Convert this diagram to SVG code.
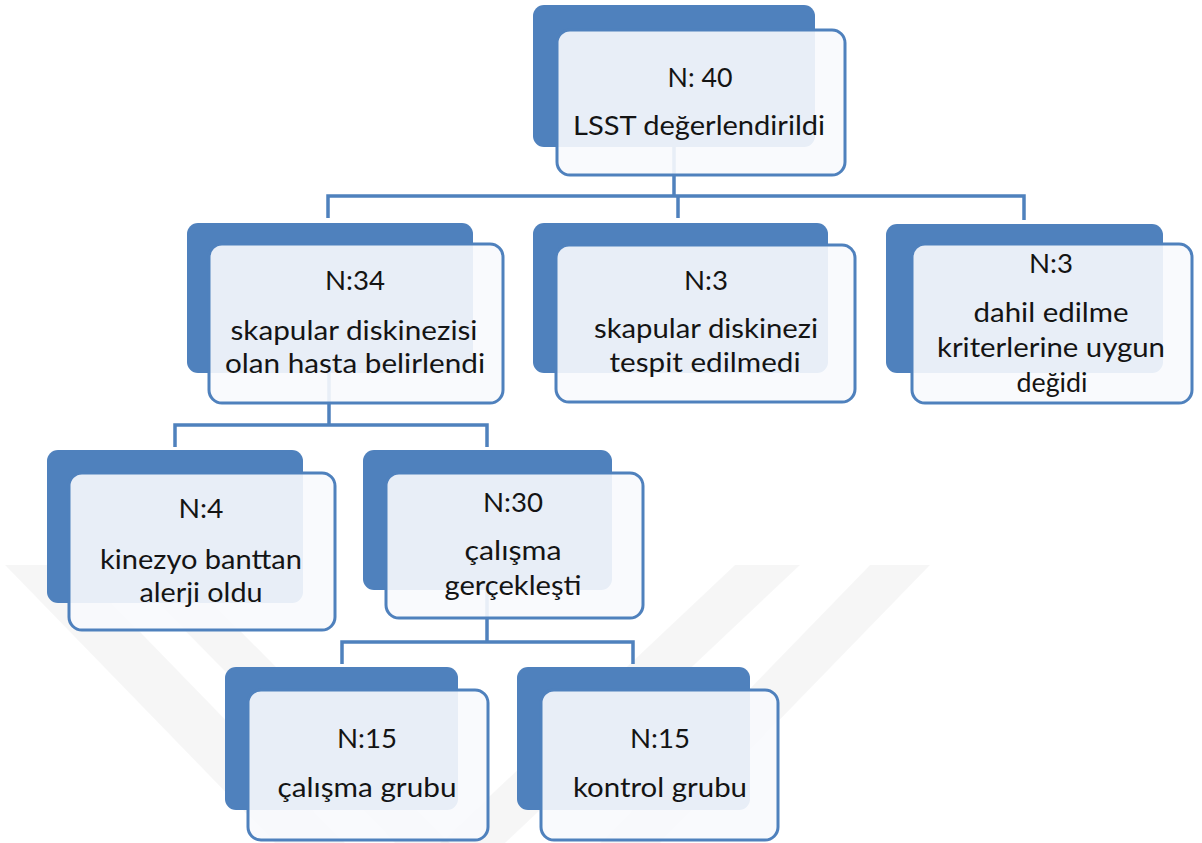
<svg xmlns="http://www.w3.org/2000/svg" width="1202" height="843" viewBox="0 0 1202 843">
<style>
.back{fill:#4f81bd}
.front{fill:#f8fafd;fill-opacity:0.9;stroke:#4f81bd;stroke-width:3}
.con{fill:none;stroke:#4f81bd;stroke-width:3.5}
.t{font-family:Lato,"Open Sans","Liberation Sans",sans-serif;font-size:27.5px;fill:#141414;text-anchor:middle}
.wm{fill:#000000;fill-opacity:0.035}
</style>
<rect width="1202" height="843" fill="#ffffff"/>
<g id="watermark">
<polygon class="wm" points="5,565 75,565 345,843 275,843"/>
<polygon class="wm" points="120,565 175,565 450,843 395,843"/>
<polygon class="wm" points="440,843 505,843 800,565 735,565"/>
<polygon class="wm" points="600,843 660,843 930,565 870,565"/>
</g>
<g id="connectors">
<path class="con" d="M674,147 V196"/>
<path class="con" d="M328,218 V196 H1024 V220"/>
<path class="con" d="M678,196 V218"/>
<path class="con" d="M329,373 V425"/>
<path class="con" d="M175,447 V425 H487 V447"/>
<path class="con" d="M487,590 V642"/>
<path class="con" d="M342,664 V642 H633 V664"/>
</g>
<g id="n40">
<rect class="back" x="533" y="5" width="282" height="142" rx="11"/>
<rect class="front" x="557" y="30" width="288" height="145" rx="13"/>
<text class="t" x="700" y="87" textLength="65" lengthAdjust="spacingAndGlyphs">N: 40</text>
<text class="t" x="699" y="135" textLength="252" lengthAdjust="spacingAndGlyphs">LSST değerlendirildi</text>
</g>
<g id="n34">
<rect class="back" x="187" y="223" width="286" height="150" rx="11"/>
<rect class="front" x="209" y="244" width="294" height="159" rx="13"/>
<text class="t" x="355" y="290" textLength="60" lengthAdjust="spacingAndGlyphs">N:34</text>
<text class="t" x="354" y="340" textLength="247" lengthAdjust="spacingAndGlyphs">skapular diskinezisi</text>
<text class="t" x="355" y="373" textLength="260" lengthAdjust="spacingAndGlyphs">olan hasta belirlendi</text>
</g>
<g id="n3a">
<rect class="back" x="533" y="223" width="295" height="150" rx="11"/>
<rect class="front" x="556" y="245" width="299" height="157" rx="13"/>
<text class="t" x="706" y="290" textLength="44" lengthAdjust="spacingAndGlyphs">N:3</text>
<text class="t" x="706" y="338" textLength="224" lengthAdjust="spacingAndGlyphs">skapular diskinezi</text>
<text class="t" x="705" y="372" textLength="191" lengthAdjust="spacingAndGlyphs">tespit edilmedi</text>
</g>
<g id="n3b">
<rect class="back" x="886" y="224" width="277" height="149" rx="11"/>
<rect class="front" x="912" y="244" width="280" height="159" rx="13"/>
<text class="t" x="1051" y="273" textLength="44" lengthAdjust="spacingAndGlyphs">N:3</text>
<text class="t" x="1051" y="322" textLength="155" lengthAdjust="spacingAndGlyphs">dahil edilme</text>
<text class="t" x="1051" y="357" textLength="228" lengthAdjust="spacingAndGlyphs">kriterlerine uygun</text>
<text class="t" x="1052" y="392" textLength="71" lengthAdjust="spacingAndGlyphs">değidi</text>
</g>
<g id="n4">
<rect class="back" x="47" y="450" width="256" height="153" rx="11"/>
<rect class="front" x="69" y="473" width="266" height="157" rx="13"/>
<text class="t" x="201" y="518" textLength="45" lengthAdjust="spacingAndGlyphs">N:4</text>
<text class="t" x="201" y="569" textLength="202" lengthAdjust="spacingAndGlyphs">kinezyo banttan</text>
<text class="t" x="201" y="602" textLength="123" lengthAdjust="spacingAndGlyphs">alerji oldu</text>
</g>
<g id="n30">
<rect class="back" x="363" y="450" width="249" height="140" rx="11"/>
<rect class="front" x="386" y="473" width="257" height="145" rx="13"/>
<text class="t" x="513" y="512" textLength="60" lengthAdjust="spacingAndGlyphs">N:30</text>
<text class="t" x="513" y="560" textLength="97" lengthAdjust="spacingAndGlyphs">çalışma</text>
<text class="t" x="513" y="595" textLength="137" lengthAdjust="spacingAndGlyphs">gerçekleşti</text>
</g>
<g id="n15a">
<rect class="back" x="225" y="667" width="233" height="143" rx="11"/>
<rect class="front" x="248" y="690" width="240" height="150" rx="13"/>
<text class="t" x="367" y="748" textLength="60" lengthAdjust="spacingAndGlyphs">N:15</text>
<text class="t" x="367" y="797" textLength="179" lengthAdjust="spacingAndGlyphs">çalışma grubu</text>
</g>
<g id="n15b">
<rect class="back" x="517" y="667" width="233" height="143" rx="11"/>
<rect class="front" x="541" y="690" width="237" height="150" rx="13"/>
<text class="t" x="660" y="748" textLength="60" lengthAdjust="spacingAndGlyphs">N:15</text>
<text class="t" x="660" y="797" textLength="174" lengthAdjust="spacingAndGlyphs">kontrol grubu</text>
</g>
</svg>
